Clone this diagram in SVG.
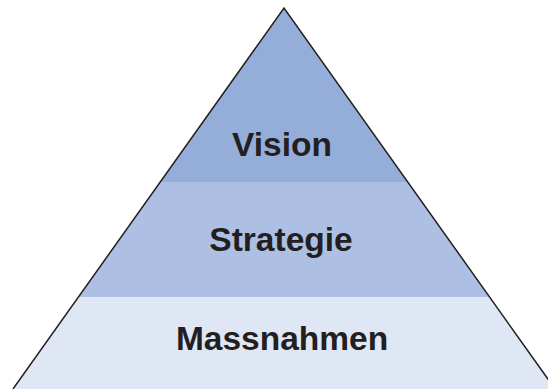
<svg xmlns="http://www.w3.org/2000/svg" width="548" height="389" viewBox="0 0 548 389">
<style>
.lbl{font-family:"Liberation Sans","Open Sans",Arial,sans-serif;font-weight:bold;font-size:33.5px;fill:#231f20;text-anchor:middle}
</style>
<defs>
<clipPath id="tri"><polygon points="284,8 13,389 555,389"/></clipPath>
</defs>
<rect width="548" height="389" fill="#ffffff"/>
<g clip-path="url(#tri)">
<g id="vision"><rect x="0" y="0" width="560" height="182" fill="#95add9"/></g>
<g id="strategie"><rect x="0" y="182" width="560" height="115" fill="#adc0e4"/></g>
<g id="massnahmen"><rect x="0" y="297" width="560" height="100" fill="#dfe6f4"/></g>
</g>
<polyline points="13,389 284,8 555,389" fill="none" stroke="#231f20" stroke-width="1.5"/>
<text class="lbl" x="282" y="156">Vision</text>
<text class="lbl" x="281" y="251">Strategie</text>
<text class="lbl" x="282" y="350">Massnahmen</text>
</svg>
